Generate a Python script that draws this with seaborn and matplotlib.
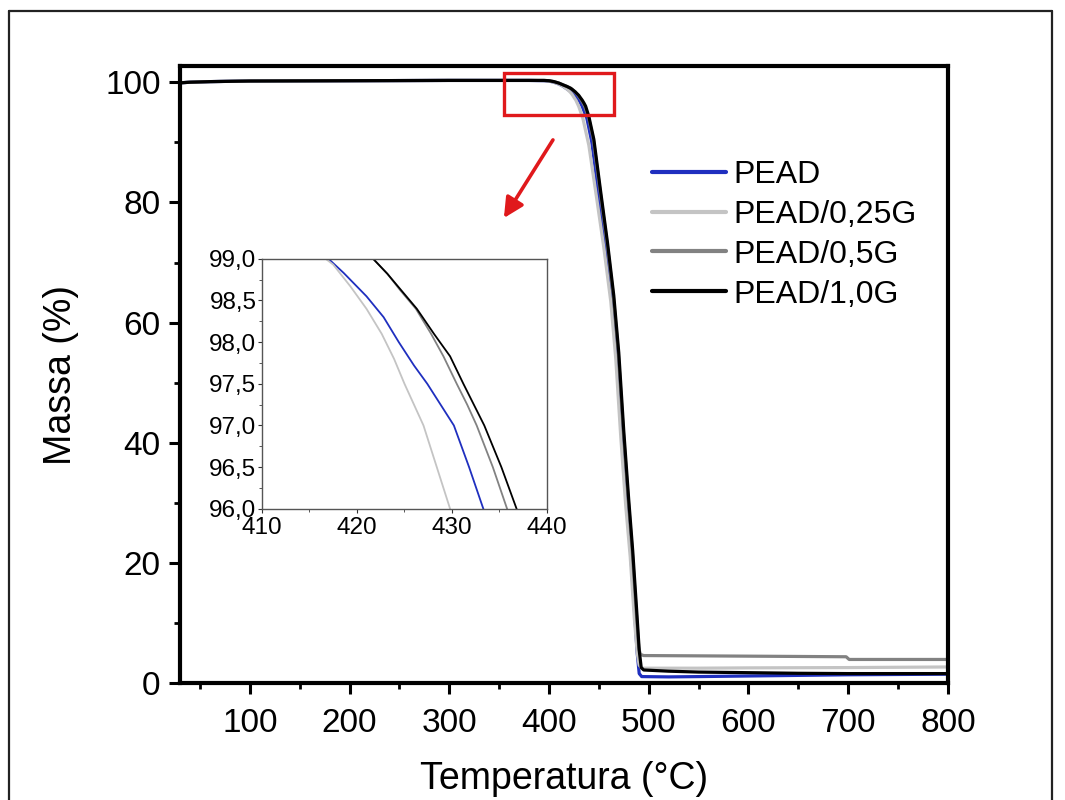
import numpy as np
import pandas as pd
import seaborn as sns
import matplotlib
matplotlib.use("Agg")
import matplotlib.pyplot as plt
from matplotlib.ticker import MultipleLocator, FuncFormatter
from matplotlib.patches import Rectangle
from matplotlib.lines import Line2D

# ---------------- data ----------------
series_names = ["PEAD", "PEAD/0,25G", "PEAD/0,5G", "PEAD/1,0G"]
series_colors = ["#1f2fbf", "#c4c4c4", "#828282", "#000000"]

t_pead = [30, 40, 60, 100, 200, 300, 380, 395, 400, 405, 410, 414, 417.0, 418.6, 421.0,
          422.8, 424.4, 426.0, 427.4, 428.8, 430.2, 431.8, 433.3, 438, 443, 450, 456.5, 463,
          468, 473, 478, 482, 486, 488.5, 490.5, 493, 520, 550, 600, 650, 700, 800]
m_pead = [99.9, 100.0, 100.1, 100.2, 100.25, 100.3, 100.3, 100.25, 100.2, 100.0, 99.7,
          99.35, 99.0, 98.83, 98.55, 98.3, 98.0, 97.72, 97.5, 97.25, 97.0, 96.5, 96.0, 94.0,
          90.0, 81.0, 73.0, 64.0, 54.5, 41.5, 30.0, 21.5, 11.5, 5.0, 1.6, 1.1, 1.05, 1.1,
          1.2, 1.3, 1.4, 1.5]

t_g025 = [30, 40, 60, 100, 200, 300, 380, 395, 400, 405, 410, 414, 416.7, 417.5, 419.3,
          421.0, 422.6, 423.9, 425.0, 426.0, 427.0, 428.4, 429.8, 434, 440, 448, 455, 462,
          467, 472, 477, 481.5, 485.5, 488.5, 490.5, 493, 550, 600, 700, 800]
m_g025 = [99.9, 100.0, 100.1, 100.2, 100.25, 100.3, 100.3, 100.25, 100.2, 100.0, 99.7,
          99.35, 99.0, 98.93, 98.67, 98.4, 98.1, 97.8, 97.5, 97.25, 97.0, 96.5, 96.0, 94.0,
          89.5, 80.5, 72.5, 63.5, 54.0, 41.0, 29.5, 21.0, 11.0, 5.0, 3.0, 2.5, 2.5, 2.55,
          2.6, 2.7]

t_g05 = [30, 40, 60, 100, 200, 300, 380, 395, 400, 405, 410, 415, 418, 421.7, 423.2,
         424.5, 426.2, 427.8, 429.1, 430.5, 431.6, 432.6, 434.3, 435.8, 439.5, 444.5,
         451.5, 458.2, 464.5, 469.5, 474.5, 479.5, 483.5, 487.5, 490, 491.5, 495, 550,
         600, 650, 698, 701, 750, 800]
m_g05 = [99.9, 100.0, 100.1, 100.2, 100.25, 100.3, 100.3, 100.3, 100.25, 100.1, 99.85,
         99.5, 99.3, 99.0, 98.82, 98.63, 98.4, 98.1, 97.83, 97.5, 97.25, 97.0, 96.5, 96.0,
         94.3, 90.5, 81.6, 73.3, 64.5, 55.0, 42.0, 30.5, 22.0, 12.0, 6.0, 4.8, 4.6, 4.55,
         4.5, 4.45, 4.4, 3.95, 3.95, 3.95]

t_g10 = [30, 40, 60, 100, 200, 300, 380, 395, 400, 405, 410, 415, 418, 421.7, 423.2,
         424.6, 426.3, 428.1, 429.8, 431.2, 432.3, 433.4, 435.2, 436.8, 440, 445, 452,
         458.7, 465, 470, 475, 480, 484, 488, 490.5, 492.5, 495, 520, 550, 600, 650, 700,
         800]
m_g10 = [99.9, 100.0, 100.1, 100.2, 100.25, 100.3, 100.3, 100.3, 100.25, 100.1, 99.85,
         99.5, 99.3, 99.0, 98.82, 98.63, 98.4, 98.1, 97.83, 97.5, 97.25, 97.0, 96.5, 96.0,
         94.3, 90.5, 81.6, 73.3, 64.5, 55.0, 42.0, 30.5, 22.0, 12.0, 5.5, 2.6, 2.2, 2.0,
         1.85, 1.75, 1.65, 1.6, 1.6]

temps = [t_pead, t_g025, t_g05, t_g10]
masses = [m_pead, m_g025, m_g05, m_g10]

main_xticks = [100, 200, 300, 400, 500, 600, 700, 800]
main_yticks = [0, 20, 40, 60, 80, 100]
inset_xticks = [410, 420, 430, 440]
inset_yticks = [96.0, 96.5, 97.0, 97.5, 98.0, 98.5, 99.0]

df = pd.concat([pd.DataFrame({"T": t, "m": m, "s": n})
                for t, m, n in zip(temps, masses, series_names)], ignore_index=True)

# ---------------- style ----------------
sns.set_style("ticks")
plt.rcParams["font.family"] = ["Liberation Sans", "DejaVu Sans"]
plt.rcParams.update({"text.color": "black", "axes.labelcolor": "black",
                     "xtick.color": "black", "ytick.color": "black"})

fig = plt.figure(figsize=(10.65, 8.0), dpi=100)
ax = fig.add_axes([0.169, 0.146, 0.721, 0.7715])

for name, col in zip(series_names, series_colors):
    sub = df[df["s"] == name]
    sns.lineplot(data=sub, x="T", y="m", ax=ax, color=col, lw=2.3, sort=False,
                 estimator=None, label=name)

ax.set_xlim(30, 800)
ax.set_ylim(0, 102.7)
ax.set_xticks(main_xticks)
ax.set_yticks(main_yticks)
ax.xaxis.set_minor_locator(MultipleLocator(50))
ax.yaxis.set_minor_locator(MultipleLocator(10))
ax.tick_params(which="major", direction="out", length=8, width=2.2, labelsize=24,
               top=False, right=False, pad=6, colors="black")
ax.tick_params(axis="x", which="major", pad=10)
ax.tick_params(which="minor", direction="out", length=4, width=2.0, top=False,
               right=False, colors="black")
for sp in ax.spines.values():
    sp.set_linewidth(3.0)
    sp.set_color("black")
ax.set_xlabel("Temperatura (°C)", fontsize=27, labelpad=16)
ax.set_ylabel("Massa (%)", fontsize=27, labelpad=19)

leg = ax.legend(loc="upper left", bbox_to_anchor=(0.615, 0.848), frameon=False,
                fontsize=23, handlelength=2.3, handletextpad=0.25, labelspacing=0.31,
                borderaxespad=0, borderpad=0)
for h in leg.get_lines():
    h.set_linewidth(3.0)

# red box and arrow
ax.add_patch(Rectangle((355, 94.5), 110, 7.0, fill=False, edgecolor="#e0191c",
                       lw=2.4, zorder=5))
ax.annotate("", xy=(354.8, 77.4), xytext=(404, 90.4),
            arrowprops=dict(arrowstyle="-|>", color="#e0191c", lw=2.6,
                            mutation_scale=30, shrinkA=0, shrinkB=0))

# ---------------- inset ----------------
axin = fig.add_axes([0.246, 0.364, 0.2676, 0.3125])
for name, col in zip(series_names, series_colors):
    sub = df[df["s"] == name]
    sns.lineplot(data=sub, x="T", y="m", ax=axin, color=col, lw=1.3, sort=False,
                 estimator=None, legend=False)
axin.set_xlim(410, 440)
axin.set_ylim(96.0, 99.0)
axin.set_xticks(inset_xticks)
axin.set_yticks(inset_yticks)
axin.xaxis.set_minor_locator(MultipleLocator(5))
axin.yaxis.set_minor_locator(MultipleLocator(0.25))
axin.yaxis.set_major_formatter(FuncFormatter(lambda v, p: f"{v:.1f}".replace(".", ",")))
axin.tick_params(which="major", direction="out", length=3, width=0.8, labelsize=17.5,
                 pad=1, colors="#333333", labelcolor="black")
axin.tick_params(axis="x", which="major", pad=3)
axin.tick_params(which="minor", direction="out", length=2, width=0.7, colors="#555555")
for sp in axin.spines.values():
    sp.set_linewidth(1.0)
    sp.set_color("#555555")
axin.set_xlabel("")
axin.set_ylabel("")

# ---------------- outer frame ----------------
fx0, fx1, fy1 = 8.5 / 1065, 1052 / 1065, 1 - 11 / 800
for xs, ys in [([fx0, fx0], [0, fy1]), ([fx0, fx1], [fy1, fy1]), ([fx1, fx1], [fy1, 0])]:
    fig.add_artist(Line2D(xs, ys, transform=fig.transFigure, color="#222222", lw=1.6))

fig.savefig("out.png", dpi=100)
